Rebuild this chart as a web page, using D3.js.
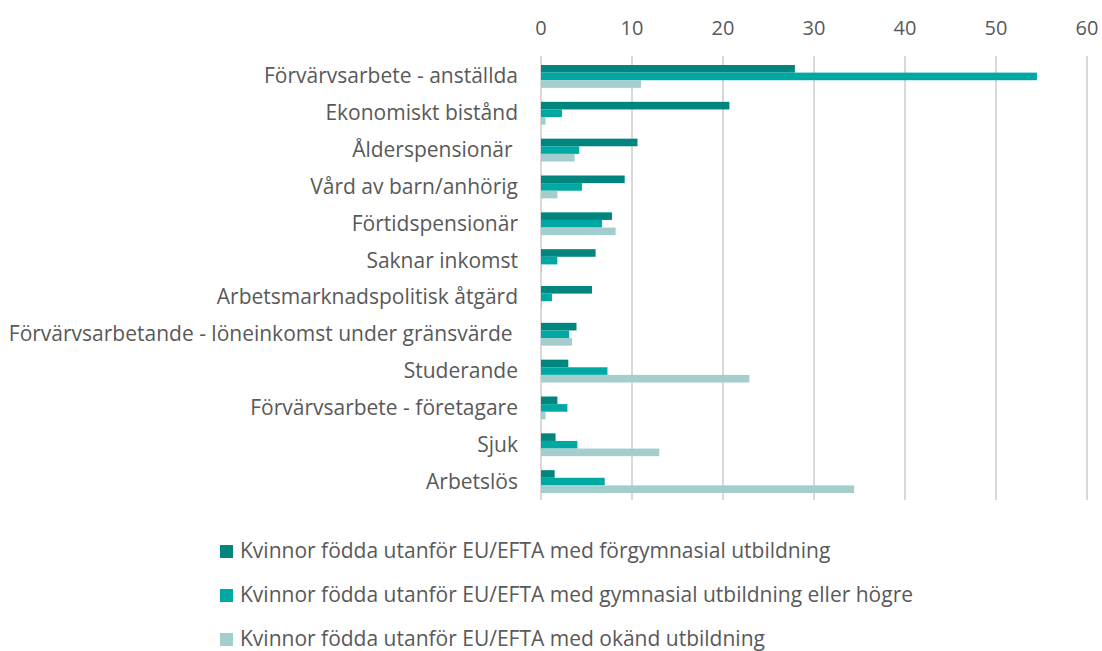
<!DOCTYPE html>
<html>
<head>
<meta charset="utf-8">
<script src="https://cdn.jsdelivr.net/npm/d3@7"></script>
<style>
  body { margin: 0; background: #fff; }
  svg { font-family: 'Open Sans', sans-serif; }
  text { white-space: pre; }
</style>
</head>
<body>
<svg width="1102" height="651"></svg>
<script>
// data
// ----------------------------------
const categories = [
  'Förvärvsarbete - anställda',
  'Ekonomiskt bistånd',
  'Ålderspensionär ',
  'Vård av barn/anhörig',
  'Förtidspensionär',
  'Saknar inkomst',
  'Arbetsmarknadspolitisk åtgärd',
  'Förvärvsarbetande - löneinkomst under gränsvärde ',
  'Studerande',
  'Förvärvsarbete - företagare',
  'Sjuk',
  'Arbetslös'
];
const seriesNames = [
  'Kvinnor födda utanför EU/EFTA med förgymnasial utbildning',
  'Kvinnor födda utanför EU/EFTA med gymnasial utbildning eller högre',
  'Kvinnor födda utanför EU/EFTA med okänd utbildning'
];
const forgymnasial = [27.9, 20.7, 10.6, 9.2, 7.8, 6.0, 5.6, 3.9, 3.0, 1.8, 1.6, 1.5];
const gymnasial = [54.5, 2.3, 4.2, 4.5, 6.7, 1.8, 1.2, 3.1, 7.3, 2.9, 4.0, 7.0];
const okand = [11.0, 0.5, 3.7, 1.8, 8.2, 0.1, 0.1, 3.4, 22.9, 0.5, 13.0, 34.4];
const xTicks = [0, 10, 20, 30, 40, 50, 60];
const colors = ['#00857f', '#00a8a4', '#a3cecd'];

const seriesValues = [forgymnasial, gymnasial, okand];

// 0. setup
// ----------------------------------
const svg = d3.select('svg');
const plot = {left: 541, right: 1087, top: 58, bottom: 500};

const x = d3.scaleLinear()
    .domain([0, 60])
    .range([plot.left, plot.right]);

const y = d3.scaleBand()
    .domain(categories)
    .range([plot.top, plot.bottom])
    .paddingInner(0.38)
    .paddingOuter(0.19);

const ySub = d3.scaleBand()
    .domain(d3.range(seriesNames.length))
    .range([0, y.bandwidth()]);

// 1. grid + axis
// ----------------------------------
svg.append('g').selectAll('line')
    .data(xTicks)
    .join('line')
    .attr('x1', (d) => x(d))
    .attr('x2', (d) => x(d))
    .attr('y1', plot.top - 2)
    .attr('y2', plot.bottom)
    .style('stroke', '#d9d9d9')
    .style('stroke-width', 2);

svg.append('g').selectAll('text')
    .data(xTicks)
    .join('text')
    .attr('x', (d) => x(d))
    .attr('y', 35)
    .attr('text-anchor', 'middle')
    .style('font-size', '20px')
    .style('fill', '#595959')
    .text((d) => d);

// 2. bars
// ----------------------------------
const groups = svg.append('g').selectAll('g')
    .data(categories)
    .join('g')
    .attr('transform', (d) => `translate(0,${y(d)})`);

groups.selectAll('rect')
    .data((d, i) => seriesValues.map((s, k) => ({k, v: s[i]})))
    .join('rect')
    .attr('x', x(0))
    .attr('y', (d) => ySub(d.k))
    .attr('width', (d) => x(d.v) - x(0))
    .attr('height', ySub.bandwidth())
    .style('fill', (d) => colors[d.k]);

// category labels
svg.append('g').selectAll('text')
    .data(categories)
    .join('text')
    .attr('x', 518)
    .attr('y', (d) => y(d) + y.bandwidth() / 2 + 7)
    .attr('text-anchor', 'end')
    .style('font-size', '21px')
    .style('fill', '#595959')
    .text((d) => d);

// 3. legend
// ----------------------------------
const legend = svg.append('g').selectAll('g')
    .data(seriesNames)
    .join('g')
    .attr('transform', (d, i) => `translate(220,${558 + i * 44})`);

legend.append('rect')
    .attr('x', 0)
    .attr('y', -13)
    .attr('width', 13)
    .attr('height', 13)
    .style('fill', (d, i) => colors[i]);

legend.append('text')
    .attr('x', 20)
    .attr('y', 0)
    .style('font-size', '21px')
    .style('fill', '#595959')
    .text((d) => d);
</script>
</body>
</html>
